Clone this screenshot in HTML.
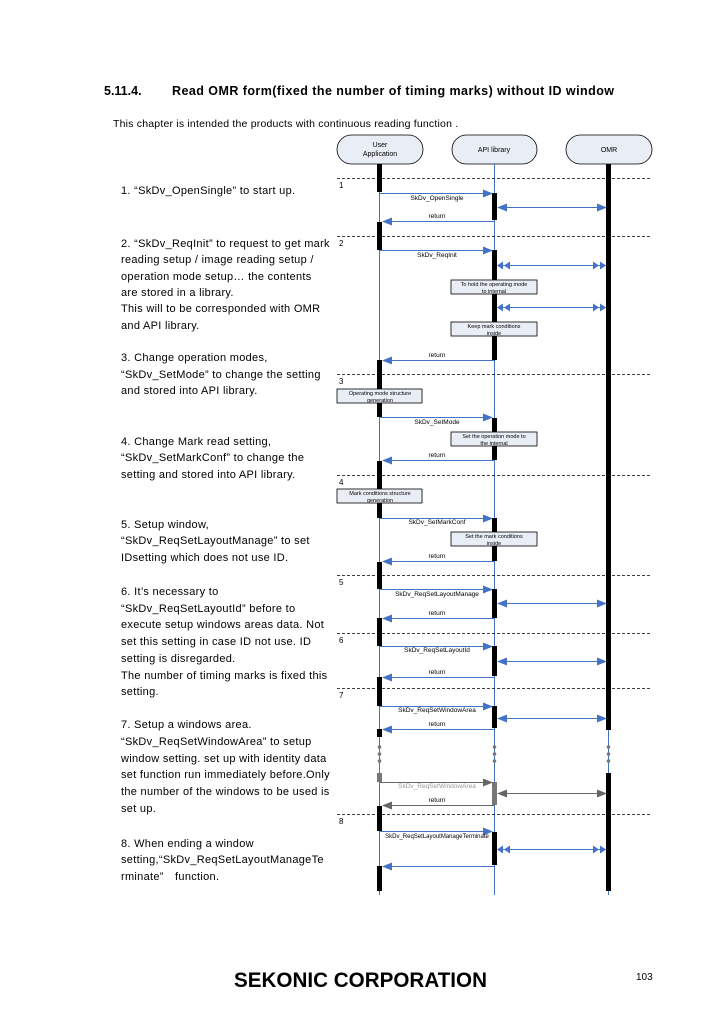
<!DOCTYPE html>
<html><head><meta charset="utf-8"><style>
html,body{margin:0;padding:0;background:#fff}
svg{display:block}
text{font-family:"Liberation Sans",Arial,sans-serif}
</style></head><body>
<svg width="725" height="1024" viewBox="0 0 725 1024" xmlns="http://www.w3.org/2000/svg">
<defs>
<marker id="ah" markerWidth="10" markerHeight="8" refX="9" refY="4" orient="auto" markerUnits="userSpaceOnUse"><path d="M0,0 L10,4 L0,8 Z" fill="#4472c4"/></marker>
<marker id="ahs" markerWidth="10" markerHeight="8" refX="1" refY="4" orient="auto" markerUnits="userSpaceOnUse"><path d="M10,0 L0,4 L10,8 Z" fill="#4472c4"/></marker>
<marker id="dh" markerWidth="14" markerHeight="8" refX="13" refY="4" orient="auto" markerUnits="userSpaceOnUse"><path d="M0,0 L6,4 L0,8 Z M7,0 L13,4 L7,8 Z" fill="#4472c4"/></marker>
<marker id="dhs" markerWidth="14" markerHeight="8" refX="1" refY="4" orient="auto" markerUnits="userSpaceOnUse"><path d="M13,0 L7,4 L13,8 Z M6,0 L0,4 L6,8 Z" fill="#4472c4"/></marker>
<marker id="gh" markerWidth="10" markerHeight="8" refX="9" refY="4" orient="auto" markerUnits="userSpaceOnUse"><path d="M0,0 L10,4 L0,8 Z" fill="#666"/></marker>
<marker id="ghs" markerWidth="10" markerHeight="8" refX="1" refY="4" orient="auto" markerUnits="userSpaceOnUse"><path d="M10,0 L0,4 L10,8 Z" fill="#666"/></marker>
</defs>

<text x="104" y="95" font-size="12.5" font-weight="bold">5.11.4.</text>
<text x="172" y="95" font-size="12.5" font-weight="bold" letter-spacing="0.45">Read OMR form(fixed the number of timing marks) without ID window</text>
<text x="113" y="127" font-size="10.5" letter-spacing="0.2">This chapter is intended the products with continuous reading function .</text>

<rect x="337" y="135" width="86" height="29" rx="14.5" fill="#e8edf6" stroke="#000" stroke-width="0.8"/>
<text x="380" y="147" font-size="7" text-anchor="middle">User</text>
<text x="380" y="156" font-size="7" text-anchor="middle">Application</text>
<rect x="452" y="135" width="85" height="29" rx="14.5" fill="#e8edf6" stroke="#000" stroke-width="0.8"/>
<text x="494" y="152" font-size="7" text-anchor="middle">API library</text>
<rect x="566" y="135" width="86" height="29" rx="14.5" fill="#e8edf6" stroke="#000" stroke-width="0.8"/>
<text x="609" y="152" font-size="7" text-anchor="middle">OMR</text>

<line x1="379.5" y1="164" x2="379.5" y2="895" stroke="#4472c4" stroke-width="1"/>
<line x1="494.5" y1="164" x2="494.5" y2="895" stroke="#4472c4" stroke-width="1"/>
<line x1="608.5" y1="164" x2="608.5" y2="895" stroke="#4472c4" stroke-width="1"/>

<rect x="606" y="164" width="5" height="566" fill="#000"/>
<rect x="606" y="773" width="5" height="118" fill="#000"/>

<g fill="#000">
<rect x="377" y="164" width="5" height="28"/>
<rect x="377" y="222" width="5" height="28"/>
<rect x="377" y="360" width="5" height="57"/>
<rect x="377" y="461" width="5" height="57"/>
<rect x="377" y="562" width="5" height="27"/>
<rect x="377" y="618" width="5" height="28"/>
<rect x="377" y="677" width="5" height="29"/>
<rect x="377" y="729" width="5" height="8"/>
<rect x="377" y="806" width="5" height="25"/>
<rect x="377" y="866" width="5" height="25"/>
<rect x="492" y="193" width="5" height="27"/>
<rect x="492" y="250" width="5" height="110"/>
<rect x="492" y="418" width="5" height="42"/>
<rect x="492" y="518" width="5" height="43"/>
<rect x="492" y="589" width="5" height="29"/>
<rect x="492" y="646" width="5" height="30"/>
<rect x="492" y="706" width="5" height="22"/>
<rect x="492" y="832" width="5" height="33"/>
</g>
<rect x="377" y="773" width="5" height="9" fill="#777"/>
<rect x="492" y="782" width="5" height="23" fill="#777"/>

<g stroke="#000" stroke-width="0.8" stroke-dasharray="3,2">
<line x1="337" y1="178.5" x2="652" y2="178.5"/>
<line x1="337" y1="236.5" x2="652" y2="236.5"/>
<line x1="337" y1="374.5" x2="652" y2="374.5"/>
<line x1="337" y1="475.5" x2="652" y2="475.5"/>
<line x1="337" y1="575.5" x2="652" y2="575.5"/>
<line x1="337" y1="633.5" x2="652" y2="633.5"/>
<line x1="337" y1="688.5" x2="652" y2="688.5"/>
<line x1="337" y1="814.5" x2="652" y2="814.5"/>
</g>
<g font-size="8">
<text x="339" y="188">1</text><text x="339" y="246">2</text><text x="339" y="384">3</text>
<text x="339" y="485">4</text><text x="339" y="585">5</text><text x="339" y="643">6</text>
<text x="339" y="698">7</text><text x="339" y="824">8</text>
</g>

<g stroke="#4472c4" stroke-width="1" fill="none">
<line x1="380" y1="193.5" x2="492" y2="193.5" marker-end="url(#ah)"/>
<line x1="380" y1="250.5" x2="492" y2="250.5" marker-end="url(#ah)"/>
<line x1="380" y1="417.5" x2="492" y2="417.5" marker-end="url(#ah)"/>
<line x1="380" y1="518.5" x2="492" y2="518.5" marker-end="url(#ah)"/>
<line x1="380" y1="589.5" x2="492" y2="589.5" marker-end="url(#ah)"/>
<line x1="380" y1="646.5" x2="492" y2="646.5" marker-end="url(#ah)"/>
<line x1="380" y1="706.5" x2="492" y2="706.5" marker-end="url(#ah)"/>
<line x1="380" y1="831.5" x2="492" y2="831.5" marker-end="url(#ah)"/>
<line x1="494" y1="221.5" x2="383" y2="221.5" marker-end="url(#ah)"/>
<line x1="494" y1="360.5" x2="383" y2="360.5" marker-end="url(#ah)"/>
<line x1="494" y1="460.5" x2="383" y2="460.5" marker-end="url(#ah)"/>
<line x1="494" y1="561.5" x2="383" y2="561.5" marker-end="url(#ah)"/>
<line x1="494" y1="618.5" x2="383" y2="618.5" marker-end="url(#ah)"/>
<line x1="494" y1="677.5" x2="383" y2="677.5" marker-end="url(#ah)"/>
<line x1="494" y1="729.5" x2="383" y2="729.5" marker-end="url(#ah)"/>
<line x1="494" y1="866.5" x2="383" y2="866.5" marker-end="url(#ah)"/>
<line x1="498" y1="207.5" x2="606" y2="207.5" marker-start="url(#ahs)" marker-end="url(#ah)"/>
<line x1="498" y1="603.5" x2="606" y2="603.5" marker-start="url(#ahs)" marker-end="url(#ah)"/>
<line x1="498" y1="661.5" x2="606" y2="661.5" marker-start="url(#ahs)" marker-end="url(#ah)"/>
<line x1="498" y1="718.5" x2="606" y2="718.5" marker-start="url(#ahs)" marker-end="url(#ah)"/>
<line x1="498" y1="265.5" x2="606" y2="265.5" marker-start="url(#dhs)" marker-end="url(#dh)"/>
<line x1="498" y1="307.5" x2="606" y2="307.5" marker-start="url(#dhs)" marker-end="url(#dh)"/>
<line x1="498" y1="849.5" x2="606" y2="849.5" marker-start="url(#dhs)" marker-end="url(#dh)"/>
</g>
<g stroke="#666" stroke-width="1">
<line x1="380" y1="782.5" x2="492" y2="782.5" marker-end="url(#gh)"/>
<line x1="494" y1="805.5" x2="383" y2="805.5" marker-end="url(#gh)"/>
<line x1="498" y1="793.5" x2="606" y2="793.5" marker-start="url(#ghs)" marker-end="url(#gh)"/>
</g>
<g fill="#777">
<circle cx="379.5" cy="747" r="1.8"/><circle cx="379.5" cy="754" r="1.8"/><circle cx="379.5" cy="761" r="1.8"/>
<circle cx="494.5" cy="747" r="1.8"/><circle cx="494.5" cy="754" r="1.8"/><circle cx="494.5" cy="761" r="1.8"/>
<circle cx="608.5" cy="747" r="1.8"/><circle cx="608.5" cy="754" r="1.8"/><circle cx="608.5" cy="761" r="1.8"/>
</g>

<g font-size="6.5" text-anchor="middle">
<text x="437" y="200">SkDv_OpenSingle</text>
<text x="437" y="218">return</text>
<text x="437" y="257">SkDv_ReqInit</text>
<text x="437" y="357">return</text>
<text x="437" y="424">SkDv_SetMode</text>
<text x="437" y="457">return</text>
<text x="437" y="524">SkDv_SetMarkConf</text>
<text x="437" y="558">return</text>
<text x="437" y="596">SkDv_ReqSetLayoutManage</text>
<text x="437" y="615">return</text>
<text x="437" y="652">SkDv_ReqSetLayoutId</text>
<text x="437" y="674">return</text>
<text x="437" y="712">SkDv_ReqSetWindowArea</text>
<text x="437" y="726">return</text>
<text x="437" y="788" fill="#999">SkDv_ReqSetWindowArea</text>
<text x="437" y="802">return</text>
<text x="437" y="838" font-size="6">SkDv_ReqSetLayoutManageTerminate</text>
</g>

<g fill="#e8edf6" stroke="#000" stroke-width="0.8">
<rect x="451" y="280" width="86" height="14"/>
<rect x="451" y="322" width="86" height="14"/>
<rect x="337" y="389" width="85" height="14"/>
<rect x="451" y="432" width="86" height="14"/>
<rect x="337" y="489" width="85" height="14"/>
<rect x="451" y="532" width="86" height="14"/>
</g>
<g font-size="5.5" text-anchor="middle">
<text x="494" y="286">To hold the operating mode</text><text x="494" y="293">to internal</text>
<text x="494" y="328">Keep mark conditions</text><text x="494" y="335">inside</text>
<text x="380" y="395">Operating mode structure</text><text x="380" y="402">generation</text>
<text x="494" y="438">Set the operation mode to</text><text x="494" y="445">the internal</text>
<text x="380" y="495">Mark conditions structure</text><text x="380" y="502">generation</text>
<text x="494" y="538">Set the mark conditions</text><text x="494" y="545">inside</text>
</g>

<g font-size="11" letter-spacing="0.3">
<text x="121" y="194">1. “SkDv_OpenSingle” to start up.</text>
<text x="121" y="247">2. “SkDv_ReqInit” to request to get mark</text>
<text x="121" y="263">reading setup / image reading setup /</text>
<text x="121" y="280">operation mode setup… the contents</text>
<text x="121" y="296">are stored in a library.</text>
<text x="121" y="312">This will to be corresponded with OMR</text>
<text x="121" y="329">and API library.</text>
<text x="121" y="361">3. Change operation modes,</text>
<text x="121" y="378">“SkDv_SetMode” to change the setting</text>
<text x="121" y="394">and stored into API library.</text>
<text x="121" y="445">4. Change Mark read setting,</text>
<text x="121" y="461">“SkDv_SetMarkConf” to change the</text>
<text x="121" y="478">setting and stored into API library.</text>
<text x="121" y="528">5. Setup window,</text>
<text x="121" y="544">“SkDv_ReqSetLayoutManage” to set</text>
<text x="121" y="561">IDsetting which does not use ID.</text>
<text x="121" y="595">6. It’s necessary to</text>
<text x="121" y="612">“SkDv_ReqSetLayoutId” before to</text>
<text x="121" y="628">execute setup windows areas data. Not</text>
<text x="121" y="645">set this setting in case ID not use. ID</text>
<text x="121" y="662">setting is disregarded.</text>
<text x="121" y="679">The number of timing marks is fixed this</text>
<text x="121" y="695">setting.</text>
<text x="121" y="728">7. Setup a windows area.</text>
<text x="121" y="745">“SkDv_ReqSetWindowArea” to setup</text>
<text x="121" y="762">window setting. set up with identity data</text>
<text x="121" y="778">set function run immediately before.Only</text>
<text x="121" y="795">the number of the windows to be used is</text>
<text x="121" y="812">set up.</text>
<text x="121" y="847">8. When ending a window</text>
<text x="121" y="863">setting,“SkDv_ReqSetLayoutManageTe</text>
<text x="121" y="880">rminate”　function.</text>
</g>

<text x="234" y="987" font-size="21" font-weight="bold" textLength="253" lengthAdjust="spacingAndGlyphs">SEKONIC CORPORATION</text>
<text x="636" y="980" font-size="10">103</text>
</svg>
</body></html>
